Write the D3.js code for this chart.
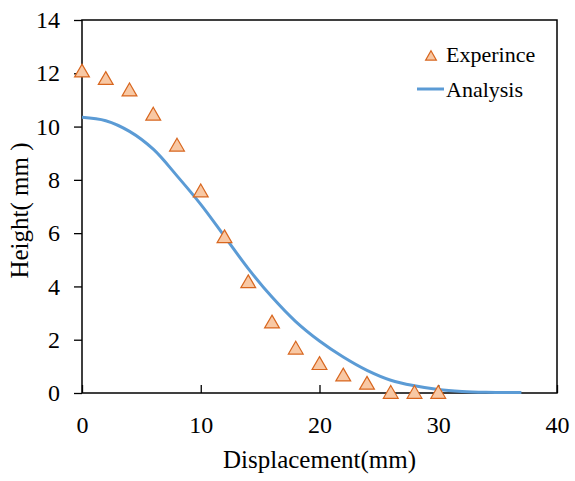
<!DOCTYPE html>
<html>
<head>
<meta charset="utf-8">
<script src="https://cdn.jsdelivr.net/npm/d3@7"></script>
<style>
  body { margin: 0; background: #fff; }
  svg { display: block; }
  svg text { font-family: "Liberation Serif", "Times New Roman", serif; }
</style>
</head>
<body>
<div id="chart"></div>
<script>
// experiment: triangles every 2 mm
const expX = [0, 2, 4, 6, 8, 10, 12, 14, 16, 18, 20, 22, 24, 26, 28, 30];
const expY = [12.06, 11.78, 11.35, 10.44, 9.28, 7.56, 5.84, 4.15, 2.64, 1.66, 1.08, 0.65, 0.34, 0, 0, 0];

// analysis curve
const anaX = [0, 2, 4, 6, 8, 10, 12, 14, 16, 18, 20, 22, 24, 26, 28, 30, 32, 34, 37];
const anaY = [10.35, 10.22, 9.82, 9.15, 8.15, 7.08, 5.88, 4.67, 3.6, 2.68, 1.95, 1.35, 0.85, 0.48, 0.27, 0.13, 0.06, 0.03, 0.02];

const xTicks = [0, 10, 20, 30, 40];
const yTicks = [0, 2, 4, 6, 8, 10, 12, 14];
const legendLabels = ["Experince", "Analysis"];

// 1. dimensions
const width = 575, height = 481;
const margin = {top: 20, right: 18, bottom: 88, left: 82};
const innerW = width - margin.left - margin.right;
const innerH = height - margin.top - margin.bottom;

const svg = d3.select("#chart").append("svg")
    .attr("width", width)
    .attr("height", height);

const bounds = svg.append("g")
    .attr("transform", `translate(${margin.left},${margin.top})`);

// 2. scales
const x = d3.scaleLinear().domain([0, 40]).range([0, innerW]);
const y = d3.scaleLinear().domain([0, 14]).range([innerH, 0]);

const tri = d3.symbol().type(d3.symbolTriangle);

// 3. axes (x ticks point inward, y ticks outward)
const xAxis = bounds.append("g")
    .attr("transform", `translate(0,${innerH})`)
    .call(d3.axisBottom(x).tickValues(xTicks).tickSizeInner(-8).tickSizeOuter(0).tickPadding(23));
xAxis.select(".domain").remove();
xAxis.selectAll("text").attr("fill", "#000").style("font-size", "24px");
xAxis.selectAll("line").attr("stroke", "#000").attr("stroke-width", 1.3);

const yAxis = bounds.append("g")
    .call(d3.axisLeft(y).tickValues(yTicks).tickSizeInner(8).tickSizeOuter(0).tickPadding(14));
yAxis.select(".domain").remove();
yAxis.selectAll("text").attr("fill", "#000").style("font-size", "24px");
yAxis.selectAll("line").attr("stroke", "#000").attr("stroke-width", 1.3);

// frame
bounds.append("rect")
    .attr("width", innerW)
    .attr("height", innerH)
    .attr("fill", "none")
    .attr("stroke", "#000")
    .attr("stroke-width", 1.5);

// 4. analysis line
const line = d3.line()
    .x((d, i) => x(anaX[i]))
    .y(d => y(d))
    .curve(d3.curveCatmullRom.alpha(0.5));

bounds.append("path")
    .datum(anaY)
    .attr("d", line)
    .attr("fill", "none")
    .attr("stroke", "#5B9BD5")
    .attr("stroke-width", 3);

// 5. experiment markers
bounds.append("g")
    .selectAll("path")
    .data(expY)
    .join("path")
        .attr("d", tri.size(95))
        .attr("transform", (d, i) => `translate(${x(expX[i])},${y(d) + 1})`)
        .attr("fill", "#F8C8A4")
        .attr("stroke", "#D8661E")
        .attr("stroke-width", 1.2);

// 6. axis titles
svg.append("text")
    .attr("x", margin.left + innerW / 2)
    .attr("y", 468)
    .attr("text-anchor", "middle")
    .attr("font-size", 25)
    .text("Displacement(mm)");

svg.append("text")
    .attr("transform", `translate(28,${margin.top + innerH / 2 + 4}) rotate(-90)`)
    .attr("text-anchor", "middle")
    .attr("font-size", 25)
    .text("Height( mm )");

// 7. legend
const legend = svg.append("g");
legend.append("path")
    .attr("d", tri.size(50))
    .attr("transform", "translate(431,57)")
    .attr("fill", "#F8C8A4")
    .attr("stroke", "#D8661E")
    .attr("stroke-width", 1.2);
legend.append("line")
    .attr("x1", 417).attr("x2", 444)
    .attr("y1", 89).attr("y2", 89)
    .attr("stroke", "#5B9BD5")
    .attr("stroke-width", 3);
legend.selectAll("text")
    .data(legendLabels)
    .join("text")
        .attr("x", 446)
        .attr("y", (d, i) => 62 + i * 35)
        .attr("font-size", 22)
        .text(d => d);
</script>
</body>
</html>
